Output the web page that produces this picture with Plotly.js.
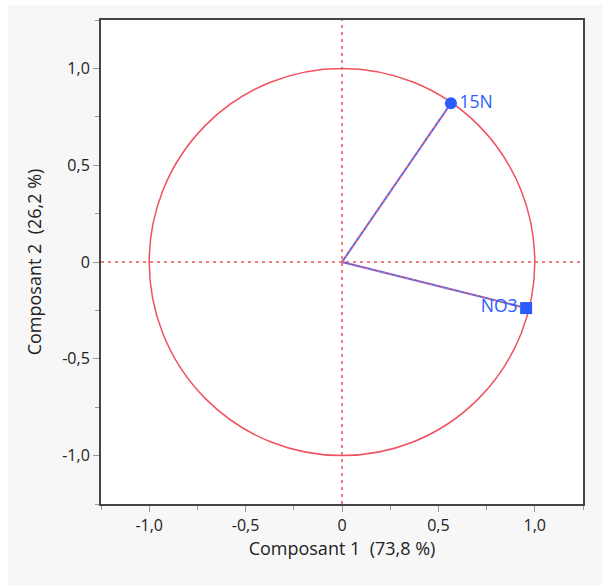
<!DOCTYPE html>
<html><head><meta charset="utf-8">
<script src="https://cdn.plot.ly/plotly-3.0.1.min.js"></script>
<style>
html,body{margin:0;padding:0;background:#fff;}
#chart{position:absolute;left:8px;top:5px;width:594px;height:580px;}
</style></head>
<body><div id="chart"></div>
<script>
// Data
const varNames = ["15N", "NO3"];
const comp1 = [0.565, 0.955];
const comp2 = [0.820, -0.238];
const markerSymbols = ["circle", "square"];
const labelPositions = ["middle right", "middle left"];
const tickVals = [-1.0, -0.5, 0, 0.5, 1.0];
const tickText = ["-1,0", "-0,5", "0", "0,5", "1,0"];
const xTitle = "Composant 1&nbsp;&nbsp;(73,8 %)";
const yTitle = "Composant 2&nbsp;&nbsp;(26,2 %)";

const blue = "#2a5cff";
const red = "#f0505f";
const font = "Open Sans";
const traces = [];
varNames.forEach((n, i) => {
  traces.push({x:[0, comp1[i]], y:[0, comp2[i]], mode:"lines", line:{color:"#5566ee", width:2}, hoverinfo:"skip", showlegend:false});
  traces.push({x:[0, comp1[i]], y:[0, comp2[i]], mode:"lines", line:{color:"#f06070", width:1.5, dash:"3px,3px"}, hoverinfo:"skip", showlegend:false});
});
traces.push({x:comp1, y:comp2, text:varNames, mode:"markers+text", textposition:labelPositions,
  marker:{symbol:markerSymbols, size:12, color:blue}, textfont:{color:blue, size:17.5, family:font}, showlegend:false});

const axisCommon = {range:[-1.25,1.25], tickvals:tickVals, ticktext:tickText, ticks:"outside", ticklen:6, tickcolor:"#999",
  showgrid:false, zeroline:false, showline:true, linecolor:"#444", linewidth:2, mirror:true,
  tickfont:{size:16, color:"#222", family:font},
  minor:{tickvals:[-1.25,-0.75,-0.25,0.25,0.75,1.25], ticks:"outside", ticklen:4, tickcolor:"#999", showgrid:false}};

const layout = {
  width:594, height:580,
  paper_bgcolor:"#f7f7f7", plot_bgcolor:"#ffffff",
  margin:{l:93, r:19, t:15, b:81},
  showlegend:false,
  xaxis:Object.assign({}, axisCommon, {title:{text:xTitle, font:{size:18, color:"#222", family:font}, standoff:6}}),
  yaxis:Object.assign({}, axisCommon, {title:{text:yTitle, font:{size:18, color:"#222", family:font}, standoff:16}}),
  shapes:[
    {type:"circle", xref:"x", yref:"y", x0:-1, y0:-1, x1:1, y1:1, line:{color:red, width:1.5}, layer:"below"},
    {type:"line", xref:"x", yref:"paper", x0:0, x1:0, y0:0, y1:1, line:{color:red, width:1.5, dash:"3px,4px"}, layer:"below"},
    {type:"line", xref:"paper", yref:"y", x0:0, x1:1, y0:0, y1:0, line:{color:red, width:1.5, dash:"3px,4px"}, layer:"below"}
  ]
};
Plotly.newPlot("chart", traces, layout, {displayModeBar:false, staticPlot:true});
</script></body></html>
